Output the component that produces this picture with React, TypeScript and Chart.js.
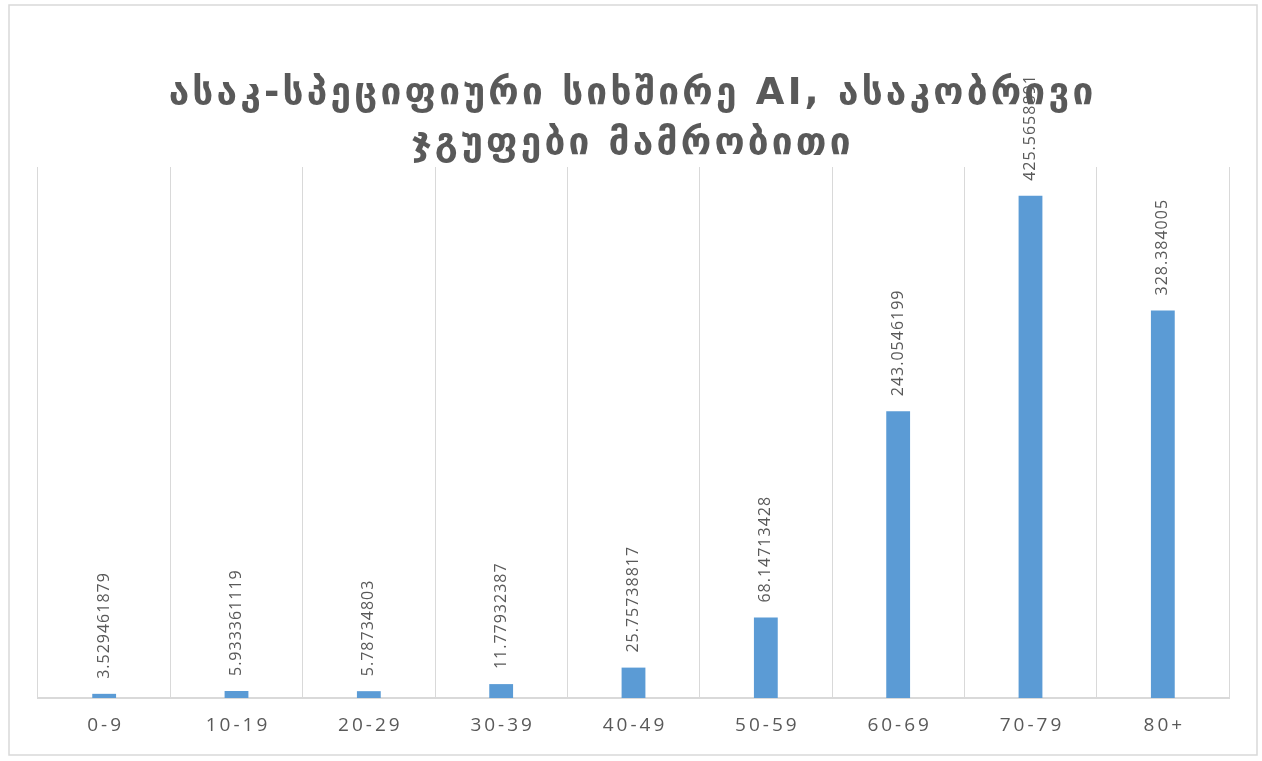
import React, { useEffect, useRef } from "react";
import { Chart, registerables } from "chart.js";

Chart.register(...registerables);

const categories = ["0-9", "10-19", "20-29", "30-39", "40-49", "50-59", "60-69", "70-79", "80+"];
const values = [3.529461879, 5.933361119, 5.78734803, 11.77932387, 25.75738817, 68.14713428, 243.0546199, 425.5658891, 328.384005];
const titleLines = ["ასაკ-სპეციფიური სიხშირე AI, ასაკობრივი", "ჯგუფები მამრობითი"];
const yMax = 450;

const W = 1262;
const H = 761;

export default function App() {
  const ref = useRef<HTMLCanvasElement | null>(null);
  useEffect(() => {
    const canvas = ref.current!;
    const deco = {
      id: "deco",
      beforeDraw(chart: any) {
        const ctx = chart.ctx;
        ctx.save();
        ctx.fillStyle = "#ffffff";
        ctx.fillRect(0, 0, W, H);
        ctx.strokeStyle = "#d9d9d9";
        ctx.lineWidth = 1.5;
        ctx.strokeRect(9, 5, 1248, 750);
        ctx.restore();
      },
      afterDatasetsDraw(chart: any) {
        const ctx = chart.ctx;
        const meta = chart.getDatasetMeta(0);
        ctx.save();
        ctx.fillStyle = "#595959";
        ctx.font = "16px 'Open Sans'";
        (ctx as any).letterSpacing = "1px";
        ctx.textAlign = "left";
        ctx.textBaseline = "middle";
        meta.data.forEach((bar: any, i: number) => {
          ctx.save();
          ctx.translate(bar.x, bar.y - 15);
          ctx.rotate(-Math.PI / 2);
          ctx.fillText(String(values[i]), 0, 0);
          ctx.restore();
        });
        ctx.restore();
      },
      afterDraw(chart: any) {
        const ctx = chart.ctx;
        const xs = chart.scales.x;
        ctx.save();
        ctx.fillStyle = "#595959";
        ctx.font = "19px 'Open Sans'";
        (ctx as any).letterSpacing = "3px";
        ctx.textAlign = "center";
        ctx.textBaseline = "middle";
        categories.forEach((c, i) => {
          ctx.fillText(c, xs.getPixelForValue(i) + 1.5, 726);
        });
        ctx.font = "bold 37px 'DejaVu Sans'";
        (ctx as any).letterSpacing = "3.2px";
        ctx.fillText(titleLines[0], W / 2 + 1.6, 94);
        ctx.fillText(titleLines[1], W / 2 + 1.6, 144);
        ctx.restore();
      },
    };
    const chart = new Chart(canvas, {
      type: "bar",
      data: {
        labels: categories,
        datasets: [
          {
            data: values,
            backgroundColor: "#5b9bd5",
            barPercentage: 0.18,
            categoryPercentage: 1,
          },
        ],
      },
      options: {
        animation: false,
        responsive: false,
        devicePixelRatio: 1,
        layout: { padding: { top: 167, left: 38, right: 33, bottom: 63 } },
        plugins: { legend: { display: false }, tooltip: { enabled: false }, title: { display: false } },
        scales: {
          x: {
            type: "category",
            offset: true,
            grid: { color: "#d9d9d9", drawTicks: false, offset: true, lineWidth: 1 },
            border: { color: "#d9d9d9", width: 2 },
            ticks: { display: false },
          },
          y: { display: false, min: 0, max: yMax },
        },
      },
      plugins: [deco],
    });
    return () => chart.destroy();
  }, []);
  return (
    <div style={{ position: "absolute", left: 0, top: 0, width: W, height: H }}>
      <canvas ref={ref} width={W} height={H} style={{ width: W, height: H, display: "block" }} />
    </div>
  );
}
